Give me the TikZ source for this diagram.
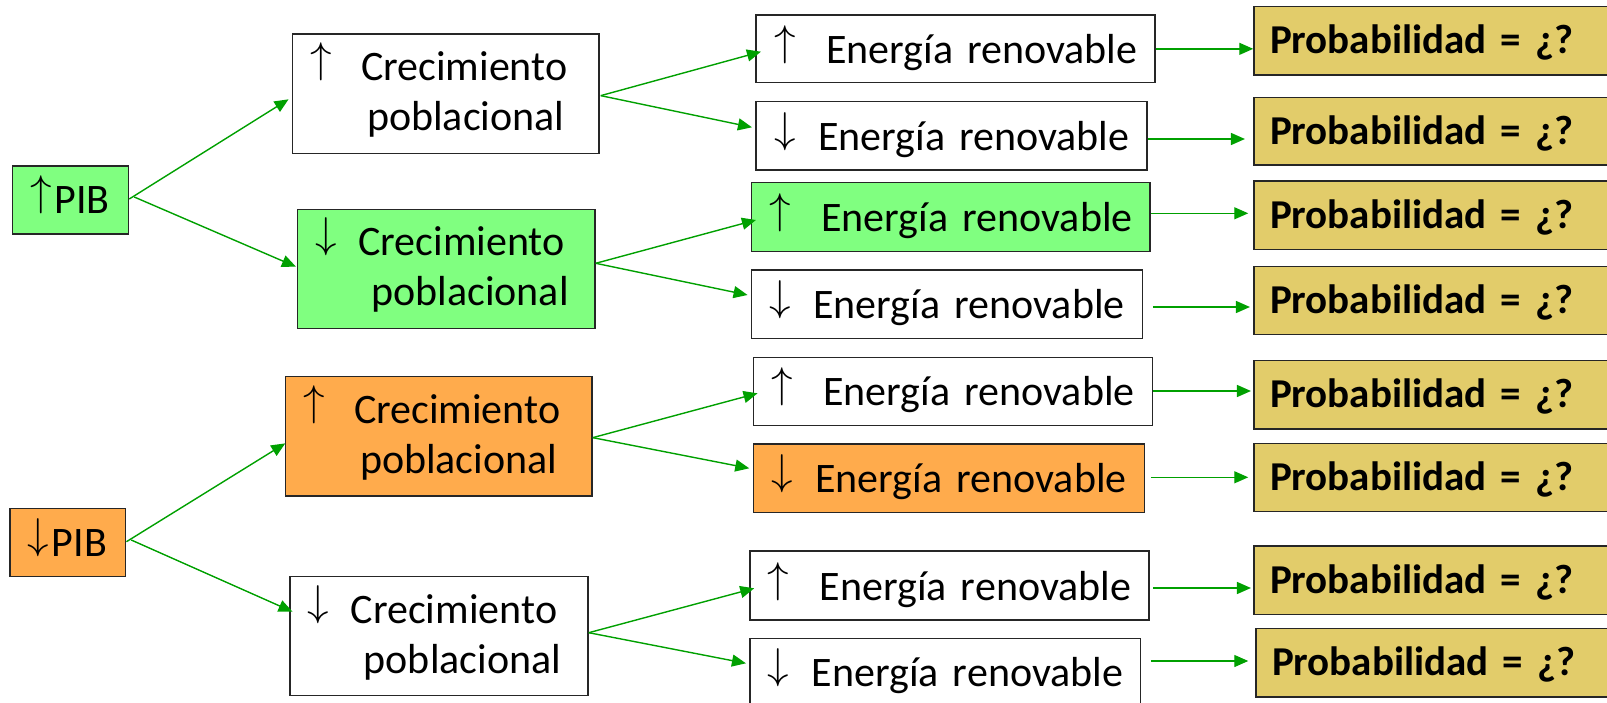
\documentclass[tikz,border=0pt]{standalone}
\usepackage{fontspec}
\setmainfont{Carlito}
\usepackage{graphicx}
\usetikzlibrary{calc,arrows.meta}

\definecolor{gfill}{RGB}{128,255,128}
\definecolor{ofill}{RGB}{255,171,76}
\definecolor{pfill}{RGB}{226,204,106}
\definecolor{lgreen}{RGB}{0,160,0}
\definecolor{bord}{RGB}{38,38,38}

\newcommand{\arw}[1]{\raisebox{8pt}{\scalebox{4.3}[4.3]{\fontsize{10}{12}\selectfont$#1$}}}
\newcommand{\arwat}[2]{\rlap{\hspace*{#1pt}\smash{\arw{#2}}}}
\newcommand{\etxt}[2]{\noindent\arwat{18}{#1}\hspace*{#2pt}\smash{Energía renovable}\rule[-9pt]{0pt}{47pt}}
\newcommand{\ctxt}[4]{\noindent\arwat{#2}{#1}\hspace*{#3pt}\smash{Crecimiento}\rule{0pt}{34pt}\\\hspace*{#4pt}\smash{poblacional}\rule[-10pt]{0pt}{10pt}}
\newcommand{\ptxt}{\noindent\hspace*{16pt}\smash{\fontsize{41}{50}\selectfont\textbf{Probabilidad = ¿?}}\rule[-9pt]{0pt}{44pt}}
\newcommand{\pibtxt}[1]{\noindent\arwat{18}{#1}\hspace*{42pt}\smash{PIB}\rule[-9pt]{0pt}{45pt}}

\tikzset{
  bx/.style={draw=bord, line width=1.5pt, inner sep=0pt, align=left,
    font=\fontsize{42}{50}\selectfont, anchor=center},
  sz/.style 2 args={text width=#1pt, minimum height=#2pt},
  conn/.style={draw=lgreen, line width=1.4pt, -{Triangle[length=14pt,width=12pt]}},
}

\begin{document}
\begin{tikzpicture}[x=1pt,y=-1pt]
\useasboundingbox (0,0) rectangle (1607,703);
\clip (0,0) rectangle (1607,703);

% level 0
\node[bx, fill=gfill, sz={116}{68}] (pibU) at (70.5,200) {\pibtxt{\uparrow}};
\node[bx, fill=ofill, sz={115.4}{68.4}] (pibD) at (67.6,542.5) {\pibtxt{\downarrow}};

% level 1
\node[bx, fill=white, sz={306.4}{119.3}] (crec1) at (445.8,93.65) {\ctxt{\uparrow}{18}{68.5}{74.5}};
\node[bx, fill=gfill, sz={297.6}{119}] (crec2) at (446.2,268.8) {\ctxt{\downarrow}{18}{61}{74}};
\node[bx, fill=ofill, sz={306.5}{119.3}] (crec3) at (438.75,436.35) {\ctxt{\uparrow}{18}{68.5}{74.5}};
\node[bx, fill=white, sz={298.2}{119}] (crec4) at (438.9,636.2) {\ctxt{\downarrow}{18}{61}{74}};

% level 2
\node[bx, fill=white, sz={398.6}{67.7}] (e1) at (955.5,48.85) {\etxt{\uparrow}{70}};
\node[bx, fill=white, sz={390.7}{68.3}] (e2) at (951.55,135.85) {\etxt{\downarrow}{62}};
\node[bx, fill=gfill, sz={398.6}{69}] (e3) at (950.7,217.2) {\etxt{\uparrow}{70}};
\node[bx, fill=white, sz={391.1}{68.3}] (e4) at (946.95,304.15) {\etxt{\downarrow}{62}};
\node[bx, fill=white, sz={399}{68.4}] (e5) at (952.9,391.5) {\etxt{\uparrow}{70}};
\node[bx, fill=ofill, sz={391.1}{68.3}] (e6) at (948.95,478.15) {\etxt{\downarrow}{62}};
\node[bx, fill=white, sz={398.9}{69}] (e7) at (949.35,585.5) {\etxt{\uparrow}{70}};
\node[bx, fill=white, sz={390.6}{68.3}] (e8) at (945.2,672.45) {\etxt{\downarrow}{62}};

% level 3
\node[bx, fill=pfill, sz={361}{68.3}] (p1) at (1434.5,40.85) {\ptxt};
\node[bx, fill=pfill, sz={361}{67.7}] (p2) at (1434.5,131.15) {\ptxt};
\node[bx, fill=pfill, sz={361}{68.3}] (p3) at (1434.5,215.15) {\ptxt};
\node[bx, fill=pfill, sz={361}{67.6}] (p4) at (1434.5,300.5) {\ptxt};
\node[bx, fill=pfill, sz={361}{68.3}] (p5) at (1434.5,394.85) {\ptxt};
\node[bx, fill=pfill, sz={361}{68.4}] (p6) at (1434.5,477.5) {\ptxt};
\node[bx, fill=pfill, sz={361}{68.3}] (p7) at (1434.5,580.15) {\ptxt};
\node[bx, fill=pfill, sz={359}{68.3}] (p8) at (1435.5,662.85) {\ptxt};

% connectors level 1
\draw[conn] ($(pibU.east)+(0,-1)$) -- ($(crec1.west)+(-3.3,5.65)$);
\draw[conn] ($(pibU.east)+(5,-3)$) -- ($(crec2.west)+(-0.7,-2.1)$);
\draw[conn] ($(pibD.east)+(0.4,-0.8)$) -- ($(crec3.west)+(0.5,7)$);
\draw[conn] ($(pibD.east)+(5.2,-2.5)$) -- ($(crec4.west)+(3.5,-24.5)$);

% connectors level 2
\draw[conn] ($(crec1.east)+(1,2)$) -- ($(e1.west)+(5.5,2.85)$);
\draw[conn] ($(crec1.east)+(1,2)$) -- ($(e2.west)+(-3.5,-8.55)$);
\draw[conn] ($(crec2.east)+(0,-5.5)$) -- ($(e3.west)+(5.3,2.8)$);
\draw[conn] ($(crec2.east)+(0,-5.5)$) -- ($(e4.west)+(-3.1,-9.15)$);
\draw[conn] ($(crec3.east)+(0,1.3)$) -- ($(e5.west)+(4.9,1.8)$);
\draw[conn] ($(crec3.east)+(0,1.3)$) -- ($(e6.west)+(-3.4,-9.85)$);
\draw[conn] ($(crec4.east)+(0,-3.5)$) -- ($(e7.west)+(5.1,2.8)$);
\draw[conn] ($(crec4.east)+(0,-3.5)$) -- ($(e8.west)+(-3.2,-9.15)$);

% connectors level 3
\draw[conn] (e1.east) -- (e1.east -| p1.west);
\draw[conn] ($(e2.east)+(0.8,3.15)$) -- ($(e2.east -| p2.west)+(-8.3,3.15)$);
\draw[conn] ($(e3.east)+(0.7,-3.9)$) -- ($(e3.east -| p3.west)+(-5,-3.9)$);
\draw[conn] ($(e4.east)+(9.5,2.85)$) -- ($(e4.east -| p4.west)+(-3.3,2.85)$);
\draw[conn] ($(e5.east)+(0.3,-0.5)$) -- ($(e5.east -| p5.west)+(-2.3,-0.5)$);
\draw[conn] ($(e6.east)+(5.5,-0.85)$) -- ($(e6.east -| p6.west)+(-5,-0.85)$);
\draw[conn] ($(e7.east)+(3.9,2.5)$) -- ($(e7.east -| p7.west)+(-2.3,2.5)$);
\draw[conn] ($(e8.east)+(9.5,-11.45)$) -- ($(e8.east -| p8.west)+(-7,-11.45)$);
\end{tikzpicture}
\end{document}
